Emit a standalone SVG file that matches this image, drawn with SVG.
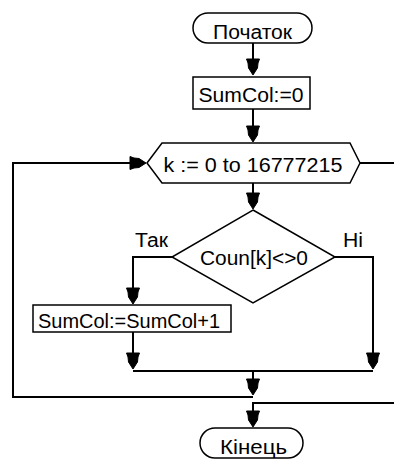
<svg xmlns="http://www.w3.org/2000/svg" width="394" height="461" viewBox="0 0 394 461">
  <style>
    .shape { fill: #ffffff; stroke: #000000; stroke-width: 1.5; }
    .wire { fill: none; stroke: #000000; stroke-width: 2; }
    .head { fill: #000000; stroke: #000000; stroke-width: 1; stroke-linejoin: round; }
    .label { font-family: "Liberation Sans", Arial, sans-serif; font-size: 20px; fill: #000000; }
    .mid { text-anchor: middle; }
  </style>
  <defs>
    <!-- arrowhead pointing down, tip at origin -->
    <path id="ah" d="M0,-1 L-4.5,-8 L-5,-13 L-6.5,-17 L6.5,-17 L5,-13 L4.5,-8 Z"/>
  </defs>

  <!-- connectors -->
  <g id="connectors">
    <g class="wire">
      <path d="M253,43 V66"/>
      <path d="M253,109 V133"/>
      <path d="M253,183 V200"/>
      <path d="M172,257 H133 V295"/>
      <path d="M133,332 V360"/>
      <path d="M335,257 H373 V360"/>
      <path d="M133,371 H373"/>
      <path d="M253,371 V386"/>
      <path d="M253,397 H13 V163 H137"/>
      <path d="M360,163 H394"/>
      <path d="M394,403 H253 V418"/>
    </g>
    <g class="head">
      <use href="#ah" x="253" y="76"/>
      <use href="#ah" x="253" y="143"/>
      <use href="#ah" x="253" y="210"/>
      <use href="#ah" x="133" y="305"/>
      <use href="#ah" x="133" y="370"/>
      <use href="#ah" x="373" y="370"/>
      <use href="#ah" x="253" y="396"/>
      <use href="#ah" x="253" y="428"/>
      <use href="#ah" transform="translate(147,163) rotate(-90)"/>
    </g>
  </g>

  <g id="start">
    <rect class="shape" x="193" y="13" width="119" height="30" rx="15" ry="15"/>
    <text class="label mid" x="252.5" y="39" textLength="79" lengthAdjust="spacingAndGlyphs">Початок</text>
  </g>

  <g id="init">
    <rect class="shape" x="193" y="77" width="117" height="32"/>
    <text class="label mid" x="251" y="102" textLength="105" lengthAdjust="spacingAndGlyphs">SumCol:=0</text>
  </g>

  <g id="loop">
    <polygon class="shape" points="147,163 162,143 350,143 360,163 350,183 162,183"/>
    <text class="label mid" x="253" y="172" textLength="179" lengthAdjust="spacingAndGlyphs">k := 0 to 16777215</text>
  </g>

  <g id="check">
    <polygon class="shape" points="253,210 335,257 253,303 172,257"/>
    <text class="label mid" x="254" y="265" textLength="108" lengthAdjust="spacingAndGlyphs">Coun[k]&lt;&gt;0</text>
    <text class="label" x="135" y="247" textLength="33" lengthAdjust="spacingAndGlyphs">Так</text>
    <text class="label" x="343" y="247" textLength="20" lengthAdjust="spacingAndGlyphs">Ні</text>
  </g>

  <g id="increment">
    <rect class="shape" x="33" y="305" width="198" height="27"/>
    <text class="label mid" x="129" y="328" textLength="182" lengthAdjust="spacingAndGlyphs">SumCol:=SumCol+1</text>
  </g>

  <g id="end">
    <rect class="shape" x="200" y="428" width="103" height="30" rx="15" ry="15"/>
    <text class="label mid" x="253.5" y="454" textLength="67" lengthAdjust="spacingAndGlyphs">Кінець</text>
  </g>
</svg>
